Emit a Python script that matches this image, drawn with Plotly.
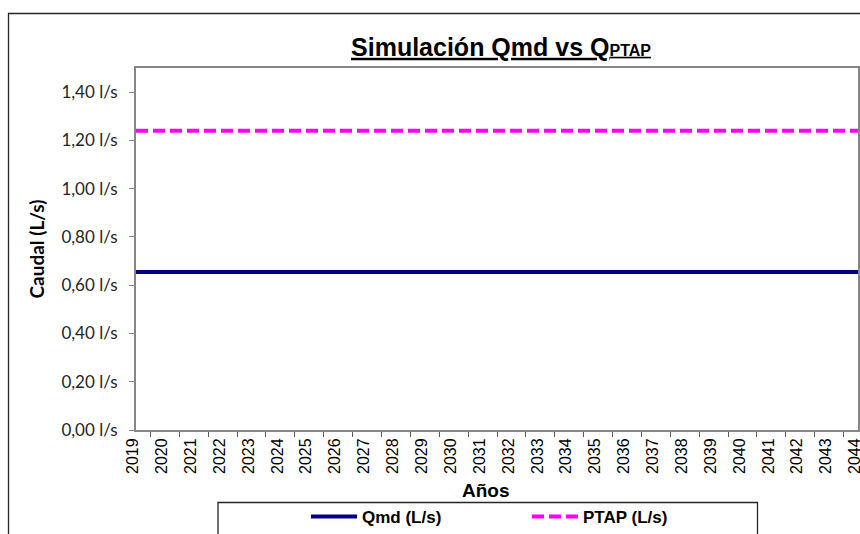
import plotly.graph_objects as go

years = [str(y) for y in range(2019, 2045)]
qmd = [0.655] * 26
ptap = [1.24] * 26
y_tickvals = [0.0, 0.2, 0.4, 0.6, 0.8, 1.0, 1.2, 1.4]
y_ticktext = ["0,00 l/s", "0,20 l/s", "0,40 l/s", "0,60 l/s", "0,80 l/s", "1,00 l/s", "1,20 l/s", "1,40 l/s"]
x_title = "Años"
y_title = "Caudal (L/s)"

W, H = 860, 534
L, T = 136, 68
R = W - 858
B = H - 430
pw, ph = W - L - R, H - T - B

def px_x(px):
    return (px - L) / pw

def px_y(py):
    return (H - B - py) / ph

fig = go.Figure()
fig.add_trace(go.Scatter(x=years, y=qmd, mode="lines", name="Qmd (L/s)",
                         line=dict(color="#000080", width=4)))
fig.add_trace(go.Scatter(x=years, y=ptap, mode="lines", name="PTAP (L/s)",
                         line=dict(color="#FF00FF", width=4, dash="12px,5px")))

fig.update_layout(
    width=W, height=H,
    margin=dict(l=L, r=R, t=T, b=B, autoexpand=False),
    paper_bgcolor="white", plot_bgcolor="white",
    title=dict(text="<b><u>Simulación Qmd vs Q<span style='font-size:16px'>PTAP</span></u></b>",
               font=dict(family="Arial", size=25, color="black"),
               x=px_x(501), xref="paper", xanchor="center",
               y=1 - 47 / H, yref="container", yanchor="middle"),
    showlegend=True,
    legend=dict(orientation="h", x=px_x(306), xanchor="left", y=px_y(499), yanchor="top",
                font=dict(family="Arial", size=17, color="black", weight="bold"),
                itemwidth=46, entrywidth=160, entrywidthmode="pixels",
                bgcolor="rgba(0,0,0,0)", borderwidth=0),
    annotations=[
        dict(text=x_title, xref="paper", yref="paper", x=px_x(485.5), y=px_y(490),
             xanchor="center", yanchor="middle", showarrow=False,
             font=dict(family="Arial", size=19, color="black", weight="bold")),
    ],
    shapes=[
        dict(type="rect", xref="paper", yref="paper",
             x0=px_x(8.5), x1=px_x(880), y0=px_y(560), y1=px_y(13.5),
             line=dict(color="#262626", width=1.3), layer="below"),
        dict(type="rect", xref="paper", yref="paper",
             x0=px_x(218), x1=px_x(757.5), y0=px_y(560), y1=px_y(502.5),
             line=dict(color="#262626", width=1.3), layer="below"),
    ],
)

fig.update_xaxes(
    type="category", tickson="boundaries", ticks="outside", ticklen=5,
    tickcolor="#595959", tickangle=-90, automargin=False, ticklabelshift=-3,
    tickfont=dict(family="Arial", size=16, color="black"),
    showline=True, linecolor="#868686", linewidth=2, mirror=True,
    showgrid=False, zeroline=False,
)
fig.update_yaxes(
    range=[0, 1.5], tickvals=y_tickvals, ticktext=y_ticktext,
    ticks="outside", ticklen=5, tickcolor="#868686", automargin=False,
    tickfont=dict(family="Lato", size=17, color="#262626"), ticklabelstandoff=8,
    showline=True, linecolor="#868686", linewidth=2, mirror=True,
    showgrid=False, zeroline=False,
    title=dict(text=y_title, font=dict(family="Lato", size=19, color="black", weight="bold"), standoff=12),
)

fig.write_html("out.html",
               config={"displayModeBar": False},
               post_script="document.body.style.margin='0';document.body.style.overflow='hidden';")
